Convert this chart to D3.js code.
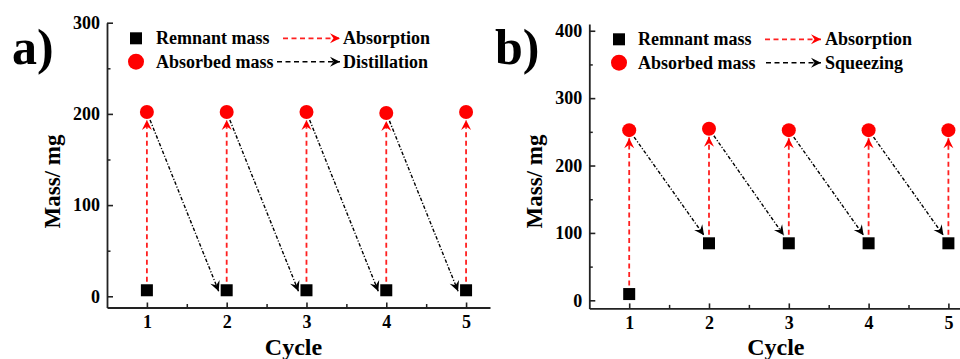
<!DOCTYPE html>
<html>
<head>
<meta charset="utf-8">
<script src="https://cdn.jsdelivr.net/npm/d3@7"></script>
<style>
  html, body { margin: 0; padding: 0; background: #fff; }
  svg { display: block; }
  text { font-family: "Liberation Serif", "Times New Roman", serif; font-weight: bold; fill: #000; }
</style>
</head>
<body>
<svg id="chart" width="960" height="359"></svg>
<script>
// ---------- data ----------
const cycles = [1, 2, 3, 4, 5];
const remnantA = [6.6, 6.6, 6.6, 6.6, 6.6];
const absorbedA = [202, 202, 202, 201, 202];
const remnantB = [9.3, 84.6, 84.6, 84.6, 84.6];
const absorbedB = [252.5, 254.5, 252.5, 252.5, 252.5];
const xTicks = [1, 2, 3, 4, 5];
const yTicksA = [0, 100, 200, 300];
const yTicksB = [0, 100, 200, 300, 400];
const legendA = ["Remnant mass", "Absorbed mass", "Absorption", "Distillation"];
const legendB = ["Remnant mass", "Absorbed mass", "Absorption", "Squeezing"];
const panelLabels = ["a)", "b)"];
const xTitle = "Cycle";
const yTitle = "Mass/ mg";

const svg = d3.select("#chart");
const defs = svg.append("defs");

function addMarker(id, color) {
  defs.append("marker")
    .attr("id", id)
    .attr("viewBox", "-12 -7 14 14")
    .attr("refX", 0).attr("refY", 0)
    .attr("markerWidth", 14).attr("markerHeight", 14)
    .attr("markerUnits", "userSpaceOnUse")
    .attr("orient", "auto")
    .append("path")
    .attr("d", "M0,0 L-10,-5 L-6.5,0 L-10,5 Z")
    .attr("fill", color);
}
addMarker("arrRed", "#ff0000");
addMarker("arrBlack", "#000");

const FONT = '"Liberation Serif", "Times New Roman", serif';

function drawPanel(cfg) {
  const g = svg.append("g");
  const x = d3.scaleLinear().domain(cfg.xDomain).range(cfg.xRange);
  const y = d3.scaleLinear().domain(cfg.yDomain).range(cfg.yRange);
  const y0 = cfg.yRange[0];
  const x0 = cfg.xRange[0];

  // minor y ticks
  const minorY = [];
  for (let v = 50; v < cfg.yDomain[1]; v += 100) minorY.push(v);
  g.append("g").attr("transform", `translate(${x0},0)`)
    .call(d3.axisLeft(y).tickValues(minorY).tickSize(-3.5).tickFormat(""))
    .call(s => s.select(".domain").remove())
    .selectAll("line").attr("stroke-width", 1.5).attr("stroke", "#222");

  // minor x ticks
  const minorX = [1.5, 2.5, 3.5, 4.5, 5.5].filter(v => v <= cfg.xDomain[1]);
  g.append("g").attr("transform", `translate(0,${y0})`)
    .call(d3.axisBottom(x).tickValues(minorX).tickSize(-3.5).tickFormat(""))
    .call(s => s.select(".domain").remove())
    .selectAll("line").attr("stroke-width", 1.5).attr("stroke", "#222");

  // y axis
  const ya = g.append("g").attr("transform", `translate(${x0},0)`)
    .call(d3.axisLeft(y).tickValues(cfg.yTicks).tickSizeInner(-6).tickSizeOuter(0).tickPadding(7));
  ya.select(".domain").attr("stroke-width", 1.8).attr("stroke", "#222");
  ya.selectAll(".tick line").attr("stroke-width", 1.6).attr("stroke", "#222");
  ya.selectAll("text").style("font-size", "18px").style("font-family", FONT).style("font-weight", "bold").attr("fill", "#000");

  // x axis
  const xa = g.append("g").attr("transform", `translate(0,${y0})`)
    .call(d3.axisBottom(x).tickValues(xTicks).tickSizeInner(-5).tickSizeOuter(0).tickPadding(8).tickFormat(d3.format("d")));
  xa.select(".domain").attr("stroke-width", 1.8).attr("stroke", "#222");
  xa.selectAll(".tick line").attr("stroke-width", 1.6).attr("stroke", "#222");
  xa.selectAll("text").style("font-size", "18px").style("font-family", FONT).style("font-weight", "bold").attr("fill", "#000");

  // titles
  g.append("text").attr("x", x(3) - 13).attr("y", 355)
    .attr("text-anchor", "middle").style("font-size", "24px").text(xTitle);
  g.append("text").attr("transform", `translate(${cfg.yTitleX},181.5) rotate(-90)`)
    .attr("text-anchor", "middle").style("font-size", "23px").text(yTitle);
  g.append("text").attr("x", cfg.labelX).attr("y", 64)
    .style("font-size", "50px").text(cfg.label);

  const rem = cfg.remnant, abs = cfg.absorbed;
  const r = 7, sq = 12;

  // red dashed absorption arrows
  g.selectAll(".absArrow").data(cycles).join("line")
    .attr("x1", (d) => x(d)).attr("x2", (d) => x(d))
    .attr("y1", (d, i) => y(rem[i]))
    .attr("y2", (d, i) => y(abs[i]) + r + 1)
    .attr("stroke", "#ff2020").attr("stroke-width", 1.8)
    .attr("stroke-dasharray", "5,3.5")
    .attr("marker-end", "url(#arrRed)");

  // black dash-dot transfer arrows
  const pairs = cycles.slice(0, -1).map((c, i) => {
    const cx = x(c), cy = y(abs[i]);
    const ex = x(cycles[i + 1]) + cfg.endOff[0], ey = y(rem[i + 1]) + cfg.endOff[1];
    const dx = ex - cx, dy = ey - cy, L = Math.hypot(dx, dy);
    return { x1: cx + dx / L * (r + 1.5), y1: cy + dy / L * (r + 1.5), x2: ex, y2: ey };
  });
  g.selectAll(".trArrow").data(pairs).join("line")
    .attr("x1", d => d.x1).attr("y1", d => d.y1)
    .attr("x2", d => d.x2).attr("y2", d => d.y2)
    .attr("stroke", "#000").attr("stroke-width", 1.4)
    .attr("stroke-dasharray", "3.5,1.8,1.2,1.8")
    .attr("marker-end", "url(#arrBlack)");

  // squares
  g.selectAll(".sq").data(cycles).join("rect")
    .attr("x", d => x(d) - sq / 2).attr("y", (d, i) => y(rem[i]) - sq / 2)
    .attr("width", sq).attr("height", sq).attr("fill", "#000");
  // circles
  g.selectAll(".ci").data(cycles).join("circle")
    .attr("cx", d => x(d)).attr("cy", (d, i) => y(abs[i])).attr("r", r)
    .attr("fill", "#ff0000");

  // legend
  const L = cfg.legend;
  g.append("rect").attr("x", L.mx - 6).attr("y", L.r1 - 6).attr("width", 12).attr("height", 12).attr("fill", "#000");
  g.append("circle").attr("cx", L.mx).attr("cy", L.r2).attr("r", 8).attr("fill", "#ff0000");
  g.append("text").attr("x", L.tx).attr("y", L.r1 + 6).style("font-size", "18px").text(cfg.legendText[0]);
  g.append("text").attr("x", L.tx).attr("y", L.r2 + 6).style("font-size", "18px").text(cfg.legendText[1]);
  g.append("line").attr("x1", L.d1).attr("x2", L.dEnd).attr("y1", L.r1).attr("y2", L.r1)
    .attr("stroke", "#ff2020").attr("stroke-width", 1.8).attr("stroke-dasharray", "5,3.5")
    .attr("marker-end", "url(#arrRed)");
  g.append("line").attr("x1", L.d2).attr("x2", L.dEnd).attr("y1", L.r2).attr("y2", L.r2)
    .attr("stroke", "#000").attr("stroke-width", 1.5).attr("stroke-dasharray", "5,3.5")
    .attr("marker-end", "url(#arrBlack)");
  g.append("text").attr("x", L.lx).attr("y", L.r1 + 6).style("font-size", "18px").text(cfg.legendText[2]);
  g.append("text").attr("x", L.lx).attr("y", L.r2 + 6).style("font-size", "18px").text(cfg.legendText[3]);
}

drawPanel({
  xDomain: [0.5, 5.3], xRange: [107, 490],
  yDomain: [-12.3, 300], yRange: [307.5, 22.7],
  yTicks: yTicksA, remnant: remnantA, absorbed: absorbedA,
  yTitleX: 60, labelX: 12, label: panelLabels[0],
  endOff: [-8, 1],
  legendText: legendA,
  legend: { mx: 136, r1: 38.3, r2: 61.7, tx: 156, d1: 283, d2: 277, dEnd: 340, lx: 343 }
});
drawPanel({
  xDomain: [0.5, 5.5], xRange: [589.3, 988.3],
  yDomain: [-12, 410], yRange: [308.4, 24],
  yTicks: yTicksB, remnant: remnantB, absorbed: absorbedB,
  yTitleX: 542, labelX: 495, label: panelLabels[1],
  endOff: [-5, -8],
  legendText: legendB,
  legend: { mx: 619, r1: 39.3, r2: 62.7, tx: 638, d1: 765, d2: 766, dEnd: 821, lx: 825 }
});
</script>
</body>
</html>
